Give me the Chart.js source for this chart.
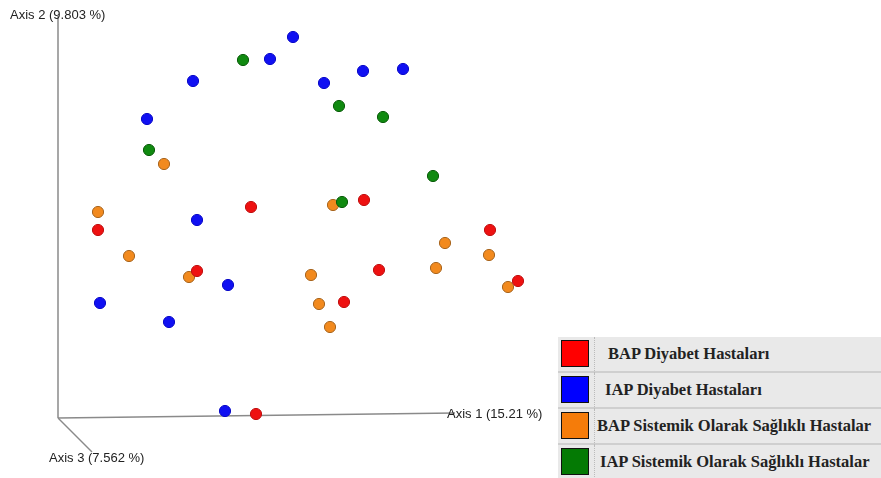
<!DOCTYPE html>
<html>
<head>
<meta charset="utf-8">
<script src="https://cdn.jsdelivr.net/npm/chart.js@4.4.1/dist/chart.umd.min.js"></script>
<style>
    html, body { margin: 0; padding: 0; background: #ffffff; }
    #wrap { position: relative; width: 881px; height: 478px; }
    #legend {
        position: absolute; left: 558px; top: 337px; width: 323px; height: 141px;
        background: #e9e9e9; font-family: "Liberation Serif", "Times New Roman", serif;
        font-weight: bold; font-size: 16.5px; color: #222;
    }
    .row { position: relative; height: 34px; border-bottom: 2px solid #cfcfcf; }
    .row:last-child { border-bottom: none; }
    .sw { position: absolute; left: 3px; top: 3px; width: 26px; height: 25px; border: 1.5px solid #111; }
    .sep { position: absolute; left: 36px; top: 0; bottom: -2px; border-left: 1px dotted #bbb; }
    .txt { position: absolute; top: 7px; white-space: nowrap; }
</style>
</head>
<body>
<div id="wrap">
    <canvas id="pcoaChart" width="881" height="478"></canvas>
    <div id="legend"></div>
</div>
<script>
// PCoA coordinates (x: Axis 1, y: Axis 2)
const groupLabels = [
    "BAP Diyabet Hastaları",
    "IAP Diyabet Hastaları",
    "BAP Sistemik Olarak Sağlıklı Hastalar",
    "IAP Sistemik Olarak Sağlıklı Hastalar"
];
const groupColors = ["#ff0000", "#0000ff", "#f57c0a", "#047a04"];

const bapDiyabet = [[193, 211], [306, 218], [40, 188], [139, 147], [321, 148], [432, 188], [460, 137], [286, 116], [198, 4]];
const iapDiyabet = [[235, 381], [212, 359], [135, 337], [266, 335], [305, 347], [345, 349], [89, 299], [139, 198], [170, 133], [42, 115], [111, 96], [167, 7]];
const bapSaglikli = [[106, 254], [40, 206], [275, 213], [71, 162], [131, 141], [253, 143], [378, 150], [387, 175], [431, 163], [450, 131], [261, 114], [272, 91]];
const iapSaglikli = [[185, 358], [281, 312], [325, 301], [91, 268], [375, 242], [284, 216]];

const axisLabels = ["Axis 1 (15.21 %)", "Axis 2 (9.803 %)", "Axis 3 (7.562 %)"];
const axis1End = [397, 5];
const axis2End = [0, 402];
const axis3End = [34, -34];

const toPts = arr => arr.map(p => ({ x: p[0], y: p[1] }));

const pointStyle = {
    "#ff0000": { fill: "#ee1111", border: "#c01010" },
    "#0000ff": { fill: "#1010f2", border: "#0a0ac8" },
    "#f57c0a": { fill: "#f28a1e", border: "#a8651e" },
    "#047a04": { fill: "#108a10", border: "#0a5c0a" }
};

function groupSet(data, i, order) {
    const c = pointStyle[groupColors[i]];
    return {
        label: groupLabels[i],
        data: toPts(data),
        backgroundColor: c.fill,
        borderColor: c.border,
        borderWidth: 1,
        pointRadius: 5.6,
        order
    };
}

function axisSet(end) {
    return {
        data: [{ x: 0, y: 0 }, { x: end[0], y: end[1] }],
        showLine: true,
        borderColor: "#8a8a8a",
        borderWidth: 1.5,
        pointRadius: 0,
        order: 10
    };
}

const axisLabelPlugin = {
    id: "axisLabels",
    afterDatasetsDraw(chart) {
        const { ctx, scales: { x, y } } = chart;
        ctx.save();
        ctx.font = "13px 'Liberation Sans', Arial, sans-serif";
        ctx.fillStyle = "#222";
        ctx.textBaseline = "middle";
        ctx.fillText(axisLabels[0], x.getPixelForValue(axis1End[0]) - 8, y.getPixelForValue(axis1End[1]) + 1);
        ctx.fillText(axisLabels[1], x.getPixelForValue(axis2End[0]) - 48, y.getPixelForValue(axis2End[1]) - 1);
        ctx.fillText(axisLabels[2], x.getPixelForValue(axis3End[0]) - 43, y.getPixelForValue(axis3End[1]) + 6);
        ctx.restore();
    }
};

new Chart(document.getElementById("pcoaChart"), {
    type: "scatter",
    data: {
        datasets: [
            axisSet(axis1End),
            axisSet(axis2End),
            axisSet(axis3End),
            groupSet(bapSaglikli, 2, 4),
            groupSet(iapDiyabet, 1, 3),
            groupSet(bapDiyabet, 0, 2),
            groupSet(iapSaglikli, 3, 1)
        ]
    },
    options: {
        responsive: false,
        animation: false,
        layout: { padding: 0, autoPadding: false },
        plugins: {
            legend: { display: false },
            tooltip: { enabled: false }
        },
        scales: {
            x: { type: "linear", min: -58, max: 823, display: false },
            y: { type: "linear", min: -60, max: 418, display: false }
        }
    },
    plugins: [axisLabelPlugin]
});

// legend box
const legendEl = document.getElementById("legend");
const textLeft = [50, 47, 39, 42];
groupLabels.forEach((label, i) => {
    const row = document.createElement("div");
    row.className = "row";
    row.innerHTML = '<div class="sw" style="background:' + groupColors[i] + '"></div>' +
        '<div class="sep"></div>' +
        '<div class="txt" style="left:' + textLeft[i] + 'px">' + label + '</div>';
    legendEl.appendChild(row);
});
</script>
</body>
</html>
